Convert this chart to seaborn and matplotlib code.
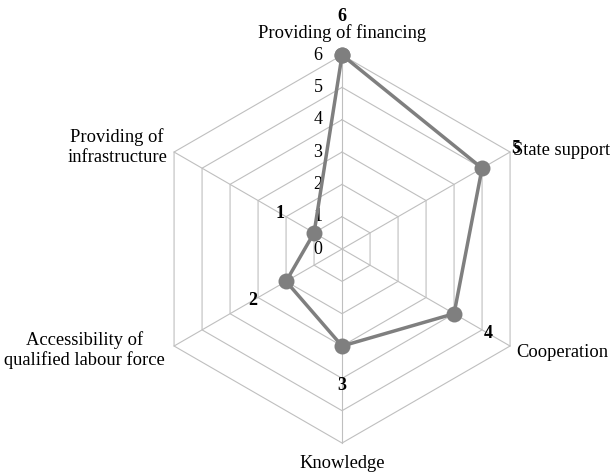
import numpy as np
import pandas as pd
import seaborn as sns
import matplotlib.pyplot as plt

plt.rcParams['font.family'] = ['Liberation Serif', 'DejaVu Serif']

# data
categories = ['Providing of financing', 'State support', 'Cooperation', 'Knowledge',
              'Accessibility of\nqualified labour force', 'Providing of\ninfrastructure']
values = [6, 5, 4, 3, 2, 1]
ticks = [0, 1, 2, 3, 4, 5, 6]

line_color = '#7f7f7f'
grid_color = '#bfbfbf'

theta = np.deg2rad(np.arange(len(categories)) * 360 / len(categories))
theta_closed = np.append(theta, theta[0])

df = pd.DataFrame({'theta': theta_closed, 'value': values + values[:1]})

fig = plt.figure(figsize=(6.16, 4.72), dpi=100)
ax = fig.add_axes([0.2403, 0.0614, 0.63, 0.822], projection='polar')
ax.set_theta_zero_location('N')
ax.set_theta_direction(-1)
ax.set_ylim(0, ticks[-1])
ax.set_xticks([])
ax.set_yticks([])
ax.spines['polar'].set_visible(False)
ax.grid(False)

# hexagonal grid
for r in ticks[1:]:
    ax.plot(theta_closed, [r] * len(theta_closed), color=grid_color, lw=0.8, zorder=1, clip_on=False)
for t in theta:
    ax.plot([t, t], [0, ticks[-1]], color=grid_color, lw=0.8, zorder=1, clip_on=False)

# radial tick labels
for r in ticks:
    ax.annotate(str(r), xy=(0, r), xytext=(-24, 0), textcoords='offset pixels',
                ha='center', va='center', fontsize=13, annotation_clip=False)

sns.lineplot(data=df, x='theta', y='value', sort=False, estimator=None, ax=ax,
             color=line_color, lw=2.5, marker='o', markersize=11.5, markeredgewidth=0,
             clip_on=False, zorder=3)

# category labels
cat_pos = [((0, 22), 'center'), ((3, 2), 'left'), ((6, -6), 'left'),
           ((0, -20), 'center'), ((-9, -4), 'right'), ((-7, 5), 'right')]
for t, name, (off, ha) in zip(theta, categories, cat_pos):
    ax.annotate(name, xy=(t, ticks[-1]), xytext=off, textcoords='offset pixels',
                ha=ha, va='center', multialignment='center', fontsize=13.3,
                linespacing=1.2, annotation_clip=False)

# data labels
for t, v in zip(theta, values):
    ax.annotate(str(v), xy=(t, v), xytext=(39 * np.sin(t), 39 * np.cos(t)),
                textcoords='offset pixels', ha='center', va='center',
                fontsize=13, fontweight='bold', annotation_clip=False)

fig.savefig('out.png', dpi=100)
